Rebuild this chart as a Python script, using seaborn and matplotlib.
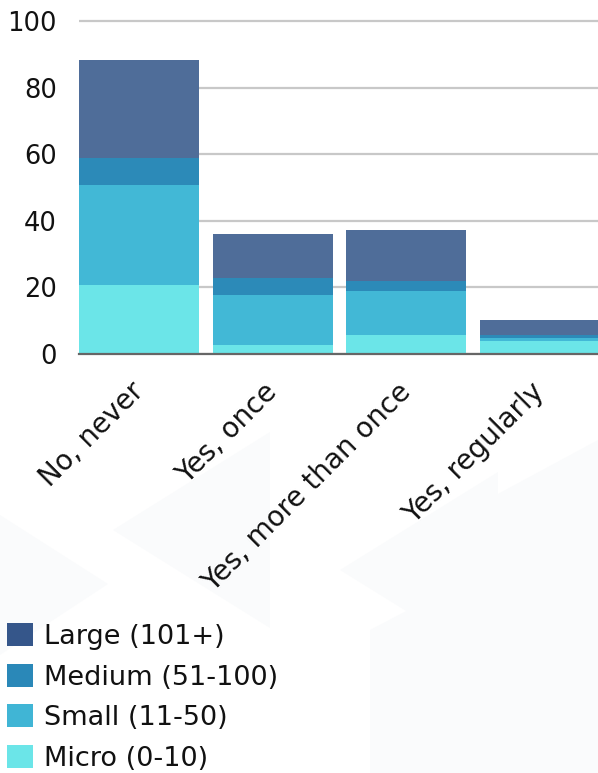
import matplotlib
matplotlib.use("Agg")
import matplotlib.pyplot as plt
from matplotlib.patches import Patch, Polygon
import numpy as np
import pandas as pd
import seaborn as sns

# Survey answers and company-size segments
categories = ["No, never", "Yes, once", "Yes, more than once", "Yes, regularly"]
series_names = ["Large (101+)", "Medium (51-100)", "Small (11-50)", "Micro (0-10)"]
micro = [20.7, 2.7, 5.7, 3.9]
small = [30.0, 15.0, 13.2, 0.9]
medium = [8.1, 5.1, 3.0, 0.9]
large = [29.4, 13.2, 15.3, 4.5]
y_ticks = [0, 20, 40, 60, 80, 100]

bar_colors = {"Large (101+)": "#4f6d99", "Medium (51-100)": "#2c8ab8",
              "Small (11-50)": "#42b8d6", "Micro (0-10)": "#6be5e8"}
legend_colors = {"Large (101+)": "#35568a", "Medium (51-100)": "#2a88b8",
                 "Small (11-50)": "#40b5d5", "Micro (0-10)": "#6be5e8"}

sns.set_theme(style="white")
plt.rcParams["font.family"] = ["DejaVu Sans"]

W, H = 598, 773
fig = plt.figure(figsize=(W / 100, H / 100), dpi=100)
fig.patch.set_facecolor("white")

# faint decorative backdrop shapes (pixel coordinates, y measured from top)
def px(points):
    return [(x / W, 1 - y / H) for x, y in points]

shapes = [
    [(0, 515), (108, 584), (0, 655)],
    [(113, 530), (270, 432), (270, 628)],
    [(340, 570), (498, 472), (498, 668)],
    [(370, 630), (431, 598), (431, 773), (370, 773)],
    [(431, 530), (598, 440), (598, 773), (431, 773)],
]
for s in shapes:
    fig.patches.append(Polygon(px(s), closed=True, transform=fig.transFigure,
                               facecolor="#fafbfc", edgecolor="none", zorder=0))

# y-limit a touch above 100 so the top gridline is not clipped
y_top = 100.6
px_per_unit = (354 - 21) / 100
ax_h = y_top * px_per_unit
ax = fig.add_axes([79 / W, 1 - 354 / H, 521 / W, ax_h / H])
ax.set_zorder(2)
ax.patch.set_alpha(0)

df = pd.DataFrame({"category": categories, "Micro (0-10)": micro,
                   "Small (11-50)": small, "Medium (51-100)": medium,
                   "Large (101+)": large})

# stacked bars: draw cumulative totals from the tallest layer down
stack_order = ["Micro (0-10)", "Small (11-50)", "Medium (51-100)", "Large (101+)"]
cum = df[stack_order].cumsum(axis=1)
for name in reversed(stack_order):
    sns.barplot(x=df["category"], y=cum[name], color=bar_colors[name],
                width=0.9, saturation=1, ax=ax, zorder=3, edgecolor="none",
                linewidth=0)

ax.set_xlim(-0.45, 3.45)
ax.set_ylim(0, y_top)
ax.set_yticks(y_ticks)
ax.set_yticklabels([str(v) for v in y_ticks])
ax.yaxis.grid(True, color="#c8c8c8", linewidth=1.6, zorder=0)
ax.xaxis.grid(False)
for side in ["top", "right", "left"]:
    ax.spines[side].set_visible(False)
ax.spines["bottom"].set_color("#666666")
ax.spines["bottom"].set_linewidth(1.6)
ax.spines["bottom"].set_zorder(4)
ax.set_xlabel("")
ax.set_ylabel("")

ax.tick_params(axis="y", length=0, pad=16, labelsize=18.5, labelcolor="#111111")
ax.tick_params(axis="x", length=0, pad=24, labelsize=20, labelcolor="#111111")
for lab in ax.get_xticklabels():
    lab.set_rotation(45)
    lab.set_ha("right")
    lab.set_va("center")
    lab.set_rotation_mode("anchor")

handles = [Patch(facecolor=legend_colors[n], edgecolor="none") for n in series_names]
fig.legend(handles, series_names, loc="upper left",
           bbox_to_anchor=(7 / W, 1 - 623 / H), frameon=False, fontsize=19.5,
           handlelength=0.95, handleheight=0.95, handletextpad=0.42,
           labelspacing=0.5, borderpad=0, borderaxespad=0,
           labelcolor="#111111")

fig.savefig("out.png", dpi=100, facecolor="white")
